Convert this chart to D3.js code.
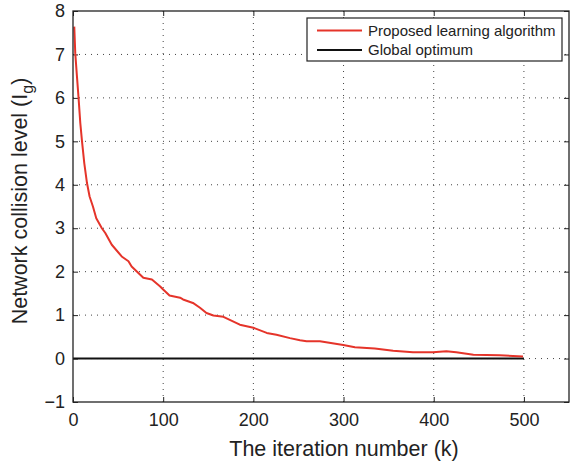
<!DOCTYPE html>
<html>
<head>
<meta charset="utf-8">
<script src="https://cdn.jsdelivr.net/npm/d3@7"></script>
<style>
  body { margin: 0; background: #fff; }
  svg { font-family: "Liberation Sans", Arial, sans-serif; }
</style>
</head>
<body>
<div id="chart"></div>
<script>
// iteration number k and network collision level I_g
const iterK = [1.4, 2.5, 4.4, 6.2, 8.1, 10, 12.5, 15.5, 18.4, 22.1, 25.8, 32, 35.8, 43, 54, 61.5, 65, 78, 87.5, 96.7,
  100, 107, 118.7, 122, 133, 140.8, 148, 155.7, 166.8, 185, 200, 214.8, 225.6, 240.6, 251.7, 259, 273.8,
  299.7, 312.6, 334.7, 355, 377, 399, 414, 425, 444, 473, 499];
const collision = [7.64, 7.03, 6.49, 5.99, 5.42, 5.0, 4.5, 4.04, 3.73, 3.50, 3.23, 3.0, 2.89, 2.62, 2.35, 2.24, 2.12, 1.86, 1.82, 1.66,
  1.59, 1.45, 1.40, 1.36, 1.28, 1.17, 1.05, 0.99, 0.96, 0.78, 0.71, 0.59, 0.55, 0.47, 0.42, 0.40, 0.40,
  0.31, 0.26, 0.23, 0.18, 0.145, 0.145, 0.17, 0.145, 0.09, 0.076, 0.05];
const optimumK = [0, 500];
const optimumVal = [0, 0];
const xTicks = [0, 100, 200, 300, 400, 500];
const yTicks = [-1, 0, 1, 2, 3, 4, 5, 6, 7, 8];
const legendLabels = ["Proposed learning algorithm", "Global optimum"];
const legendColors = ["#e5342a", "#111"];

const width = 571, height = 462;
const margin = {top: 11, right: 2, bottom: 60, left: 73};
const w = width - margin.left - margin.right;
const h = height - margin.top - margin.bottom;

const svg = d3.select("#chart").append("svg")
    .attr("width", width)
    .attr("height", height);

const g = svg.append("g")
    .attr("transform", "translate(" + margin.left + "," + margin.top + ")");

const x = d3.scaleLinear().domain([0, 550]).range([0, w]);
const y = d3.scaleLinear().domain([-1, 8]).range([h, 0]);

// dotted grid
g.append("g").selectAll("line")
    .data(xTicks.filter(d => d > 0))
    .enter().append("line")
    .attr("x1", d => x(d)).attr("x2", d => x(d))
    .attr("y1", 0).attr("y2", h)
    .attr("stroke", "#444").attr("stroke-width", 1)
    .attr("stroke-dasharray", "1,5");
g.append("g").selectAll("line")
    .data(yTicks.filter(d => d > -1 && d < 8))
    .enter().append("line")
    .attr("x1", 0).attr("x2", w)
    .attr("y1", d => y(d)).attr("y2", d => y(d))
    .attr("stroke", "#444").attr("stroke-width", 1)
    .attr("stroke-dasharray", "1,5");

// axes: ticks inward on all four sides
const xAxis = g.append("g")
    .attr("transform", "translate(0," + h + ")")
    .call(d3.axisBottom(x).tickValues(xTicks).tickSizeInner(-5).tickSizeOuter(0).tickPadding(11));
const xTop = g.append("g")
    .call(d3.axisTop(x).tickValues(xTicks).tickSizeInner(-5).tickSizeOuter(0).tickFormat(""));
const yAxis = g.append("g")
    .call(d3.axisLeft(y).tickValues(yTicks).tickSizeInner(-5).tickSizeOuter(0).tickPadding(8).tickFormat(d => d < 0 ? "\u2212" + Math.abs(d) : d));
const yRight = g.append("g")
    .attr("transform", "translate(" + w + ",0)")
    .call(d3.axisRight(y).tickValues(yTicks).tickSizeInner(-5).tickSizeOuter(0).tickFormat(""));

[xAxis, xTop, yAxis, yRight].forEach(a => {
    a.selectAll(".domain").remove();
    a.selectAll(".tick line").attr("stroke", "#222");
    a.selectAll("text").attr("font-size", 18).attr("fill", "#222")
        .attr("font-family", "Liberation Sans, Arial, sans-serif");
});

// lines
const line = d3.line().x(d => x(d[0])).y(d => y(d[1]));
g.append("path")
    .datum(optimumK.map((k, i) => [k, optimumVal[i]]))
    .attr("d", line)
    .attr("fill", "none").attr("stroke", legendColors[1]).attr("stroke-width", 2);
g.append("path")
    .datum(iterK.map((k, i) => [k, collision[i]]))
    .attr("d", line)
    .attr("fill", "none").attr("stroke", legendColors[0]).attr("stroke-width", 2)
    .attr("stroke-linejoin", "round");

// box
g.append("rect")
    .attr("width", w).attr("height", h)
    .attr("fill", "none").attr("stroke", "#222").attr("stroke-width", 1.3);

// axis labels
svg.append("text")
    .attr("x", 344).attr("y", 456)
    .attr("text-anchor", "middle").attr("font-size", 21.5).attr("fill", "#222")
    .text("The iteration number (k)");

const yl = svg.append("text")
    .attr("transform", "translate(27,201) rotate(-90)")
    .attr("text-anchor", "middle").attr("font-size", 21.5).attr("fill", "#222");
yl.append("tspan").text("Network collision level (I");
yl.append("tspan").attr("dy", 6).attr("font-size", 16).text("g");
yl.append("tspan").attr("dy", -6).text(")");

// legend
const lg = svg.append("g").attr("transform", "translate(307,18)");
lg.append("rect")
    .attr("width", 255).attr("height", 43)
    .attr("fill", "#fff").attr("stroke", "#222").attr("stroke-width", 1.2);
legendLabels.forEach((lab, i) => {
    const cy = 12.5 + i * 19.5;
    lg.append("line")
        .attr("x1", 10).attr("x2", 55).attr("y1", cy).attr("y2", cy)
        .attr("stroke", legendColors[i]).attr("stroke-width", 2);
    lg.append("text")
        .attr("x", 61).attr("y", cy + 5)
        .attr("font-size", 15).attr("fill", "#222")
        .text(lab);
});
</script>
</body>
</html>
